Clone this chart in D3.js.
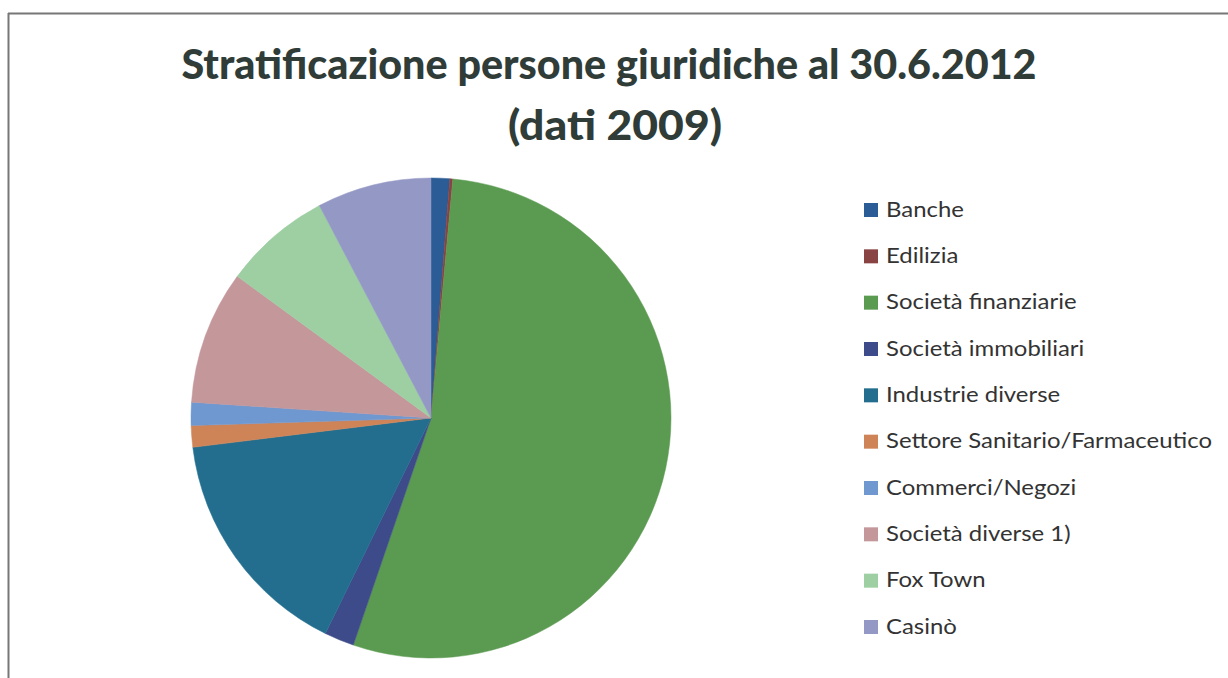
<!DOCTYPE html>
<html lang="it">
<head>
  <meta charset="UTF-8" />
  <title>Stratificazione persone giuridiche</title>
  <script src="https://d3js.org/d3.v7.min.js"></script>
  <style>
    html, body {
      margin: 0;
      padding: 0;
      width: 1228px;
      height: 678px;
      overflow: hidden;
      background: #fff;
      font-family: Lato, "Open Sans", sans-serif;
    }
    svg { display: block; }
  </style>
</head>
<body>
<svg width="1228" height="678"></svg>

<script>
const categories = [
  "Banche",
  "Edilizia",
  "Società finanziarie",
  "Società immobiliari",
  "Industrie diverse",
  "Settore Sanitario/Farmaceutico",
  "Commerci/Negozi",
  "Società diverse 1)",
  "Fox Town",
  "Casinò"
];
// share in percent
const values = [1.25, 0.2, 53.8, 2.0, 15.8, 1.45, 1.55, 9.0, 7.25, 7.7];
const colors = [
  "#2b5c95", "#8a4343", "#5b9a51", "#3e4b8a", "#236e8e",
  "#cf8458", "#6f98d0", "#c4979b", "#9dcfa2", "#9498c5"
];
const titleLines = ["Stratificazione persone giuridiche al 30.6.2012", "(dati 2009)"];

const svg = d3.select("svg");

// frame of the scanned chart (top and left edges only visible)
svg.append("line").attr("x1", 8).attr("x2", 1228).attr("y1", 13.5).attr("y2", 13.5)
  .attr("stroke", "#777").attr("stroke-width", 2);
svg.append("line").attr("x1", 8.5).attr("x2", 8.5).attr("y1", 13).attr("y2", 678)
  .attr("stroke", "#777").attr("stroke-width", 2);

// title, squeezed to the width it has in the picture
const title = svg.append("g").attr("fill", "#2f3c38").attr("font-weight", 900)
  .attr("font-size", 41).attr("text-anchor", "middle");
title.append("text").attr("x", 609).attr("y", 79)
  .attr("textLength", 855).attr("lengthAdjust", "spacingAndGlyphs")
  .text(titleLines[0]);
title.append("text").attr("x", 615).attr("y", 140)
  .attr("textLength", 214).attr("lengthAdjust", "spacingAndGlyphs")
  .text(titleLines[1]);

// pie
const color = d3.scaleOrdinal().domain(categories).range(colors);
const pie = d3.pie().sort(null).value(d => d.value);
const arc = d3.arc().innerRadius(0).outerRadius(240);
const data = categories.map((c, i) => ({ name: c, value: values[i] }));

svg.append("g")
  .attr("transform", "translate(431,418)")
  .selectAll("path")
  .data(pie(data))
  .join("path")
  .attr("d", arc)
  .attr("fill", d => color(d.data.name))
  .attr("stroke", d => color(d.data.name))
  .attr("stroke-width", 0.5);

// legend
const ly = d3.scalePoint().domain(categories).range([210, 627]);
const legend = svg.append("g");
const item = legend.selectAll("g")
  .data(categories)
  .join("g")
  .attr("transform", d => `translate(864,${ly(d)})`);
item.append("rect")
  .attr("x", 0).attr("y", -7).attr("width", 14).attr("height", 14)
  .attr("fill", d => color(d));
const labels = item.append("text")
  .attr("x", 22).attr("y", 6.5)
  .attr("font-size", 22).attr("fill", "#333")
  .text(d => d);
const widths = labels.nodes().map(n => n.getComputedTextLength());
const squeeze = 326 / d3.max(widths);
labels.attr("textLength", (d, i) => widths[i] * squeeze).attr("lengthAdjust", "spacingAndGlyphs");
</script>
</body>
</html>
